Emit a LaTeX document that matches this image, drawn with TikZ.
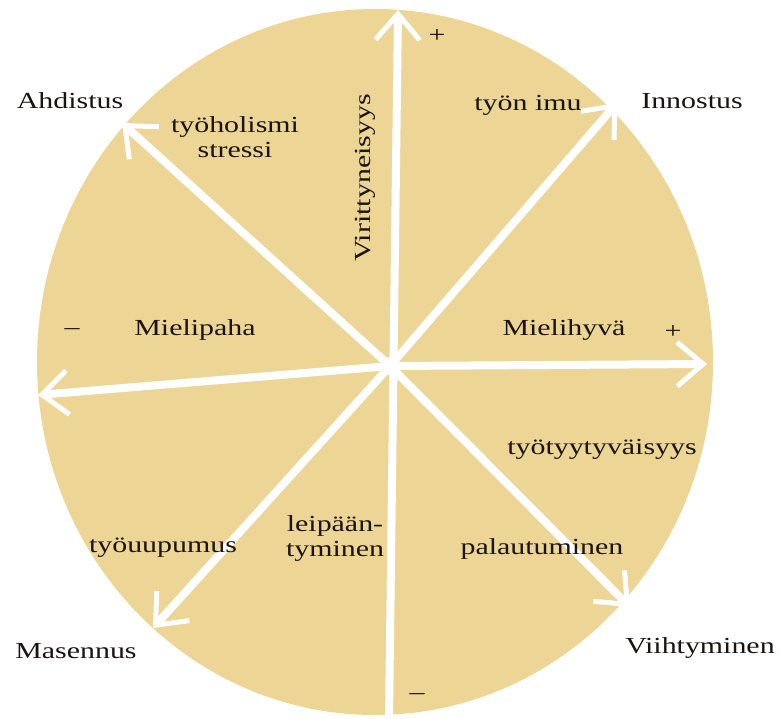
\documentclass[tikz,border=0pt]{standalone}
\usepackage{fontspec}
\newfontfamily\diafont{Liberation Serif}[FakeStretch=1.3]
\usetikzlibrary{arrows.meta}
\definecolor{sand}{RGB}{237,213,150}
\definecolor{ink}{RGB}{25,20,15}

\begin{document}
\begin{tikzpicture}[x=1pt, y=-1pt,
    barb/.tip={Straight Barb[length=26pt, width=44pt, line width=5pt]},
    lab/.style={text=ink, font=\diafont\fontsize{23}{25}\selectfont, align=center, inner sep=0pt},
    arr/.style={-barb, white, line width=8pt, line cap=round},
    both/.style={barb-barb, white, line width=8pt, line cap=round}]
  \useasboundingbox (0,0) rectangle (781,718);
  \fill[sand] (375,362) ellipse [x radius=338, y radius=353];

  % centre and arrow ends
  \coordinate (o) at (390,366);
  \coordinate (top) at (398,10);
  \coordinate (bot) at (389,718);
  \coordinate (west) at (38,395);
  \coordinate (east) at (707,364);
  \coordinate (nw) at (122,123);
  \coordinate (ne) at (617,103);
  \coordinate (se) at (630,607);
  \coordinate (sw) at (153,628);

  \draw[arr] (bot) -- (top);
  \draw[both] (west) -- (o) -- (east);
  \foreach \e in {nw,ne,se,sw}
    \draw[arr] (o) -- (\e);
  \fill[white] (o) circle (9);

  % corners
  \node[lab] (ahd) at (70,101) {Ahdistus};
  \node[lab] (inn) at (692,101) {Innostus};
  \node[lab] (mas) at (76,651) {Masennus};
  \node[lab] (vii) at (700,648) {Viihtyminen};

  % inside
  \node[lab] (tyoh) at (235,137) {työholismi\\stressi};
  \node[lab] (imu) at (528,105) {työn imu};
  \node[lab, rotate=90] (vir) at (365,178) {Virittyneisyys};
  \node[lab] (pah) at (195,330) {Mielipaha};
  \node[lab] (hyv) at (564,330) {Mielihyvä};
  \node[lab] (tyyt) at (602,449) {työtyytyväisyys};
  \node[lab] (uup) at (163,548) {työuupumus};
  \node[lab] (leip) at (335,538) {leipään-\\tyminen};
  \node[lab] (pal) at (542,549) {palautuminen};

  % signs
  \node[lab] (pn) at (437,36) {+};
  \node[lab] (pe) at (673,332) {+};
  \node[lab] (mw) at (72,332) {–};
  \node[lab] (ms) at (417,697) {–};
\end{tikzpicture}
\end{document}
